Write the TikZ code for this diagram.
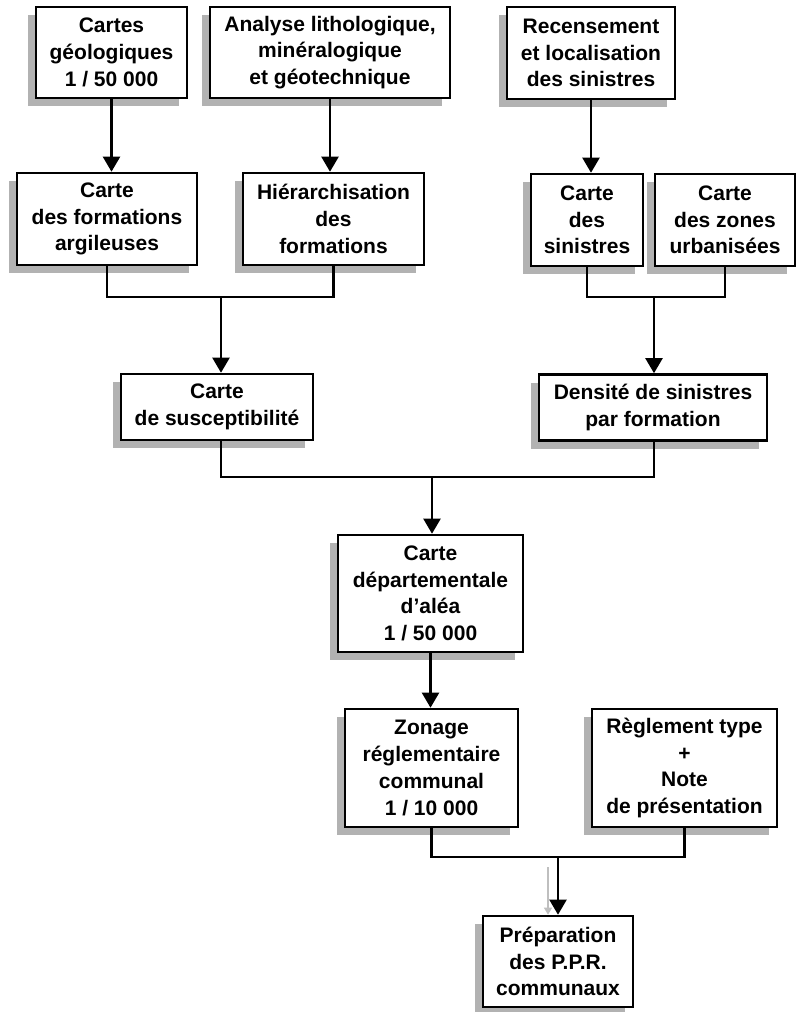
\documentclass[tikz,border=0pt]{standalone}
\usepackage{fontspec}
\setmainfont{Liberation Sans}
\usetikzlibrary{arrows.meta,shadows}
\begin{document}
\begin{tikzpicture}[x=1pt, y=-1pt,
  box/.style={draw, line width=2.6pt, fill=white, align=center, inner sep=2pt,
    font=\fontsize{21}{26.7}\selectfont\bfseries,
    drop shadow={shadow xshift=-8pt, shadow yshift=-8pt, fill=black!30, opacity=1}},
  lnk/.style={line width=2.2pt},
  arr/.style={line width=2.2pt, -{Triangle[width=17pt,length=15pt]}},
  ghost/.style={line width=1.2pt, black!25, -{Triangle[width=8pt,length=7pt]}}]
      \useasboundingbox (0,0) rectangle (802,1012);

      \node[box, minimum width=151pt, minimum height=91pt] (cartes) at (111.5,52.5) {Cartes\\géologiques\\1 / 50 000};
      \node[box, minimum width=240pt, minimum height=91pt] (analyse) at (330,52.5) {Analyse lithologique,\\minéralogique\\et géotechnique};
      \node[box, minimum width=168pt, minimum height=92pt] (recens) at (591,53) {Recensement\\et localisation\\des sinistres};

      \node[box, minimum width=180pt, minimum height=92pt] (formarg) at (107,219) {Carte\\des formations\\argileuses};
      \node[box, minimum width=181pt, minimum height=92pt] (hierarch) at (333.5,219) {Hiérarchisation\\des\\formations};
      \node[box, minimum width=112pt, minimum height=92pt] (sinistres) at (587,220) {Carte\\des\\sinistres};
      \node[box, minimum width=140pt, minimum height=92pt] (zones) at (725,220) {Carte\\des zones\\urbanisées};

      \node[box, minimum width=192pt, minimum height=66pt] (suscept) at (217,407) {Carte\\de susceptibilité};
      \node[box, minimum width=228pt, minimum height=66pt] (densite) at (653,407.5) {Densité de sinistres\\par formation};

      \node[box, minimum width=185pt, minimum height=117pt] (alea) at (430.5,593.5) {Carte\\départementale\\d’aléa\\1 / 50 000};

      \node[box, minimum width=173pt, minimum height=118pt] (zonage) at (431.5,768) {Zonage\\réglementaire\\communal\\1 / 10 000};
      \node[box, minimum width=185pt, minimum height=118pt] (reglement) at (684.5,768) {Règlement type\\+\\Note\\de présentation};

      \node[box, minimum width=150pt, minimum height=91pt] (ppr) at (558,961.5) {Préparation\\des P.P.R.\\communaux};

      \coordinate (j1) at (221,297);
      \coordinate (j2) at (654,297);
      \coordinate (j3) at (432,477);
      \coordinate (j4) at (558,857);
      \coordinate (g1) at (548,867);

      \draw[arr] (cartes.south) -- (cartes.south |- formarg.north);
      \draw[arr] (analyse.south) -- (analyse.south |- hierarch.north);
      \draw[arr] (recens.south) -- (recens.south |- sinistres.north);

      \draw[lnk] (formarg.south) |- (j1) -| (hierarch.south);
      \draw[arr] (j1) -- (j1 |- suscept.north);
      \draw[lnk] (sinistres.south) |- (j2) -| (zones.south);
      \draw[arr] (j2) -- (j2 |- densite.north);

      \draw[lnk] (j1 |- suscept.south) |- (j3) -| (j2 |- densite.south);
      \draw[arr] (j3) -- (j3 |- alea.north);
      \draw[arr] (alea.south) -- (alea.south |- zonage.north);

      \draw[lnk] (zonage.south) |- (j4) -| (reglement.south);
      \draw[ghost] (g1) -- (g1 |- ppr.north);
      \draw[arr] (j4) -- (j4 |- ppr.north);
    \end{tikzpicture}
\end{document}
